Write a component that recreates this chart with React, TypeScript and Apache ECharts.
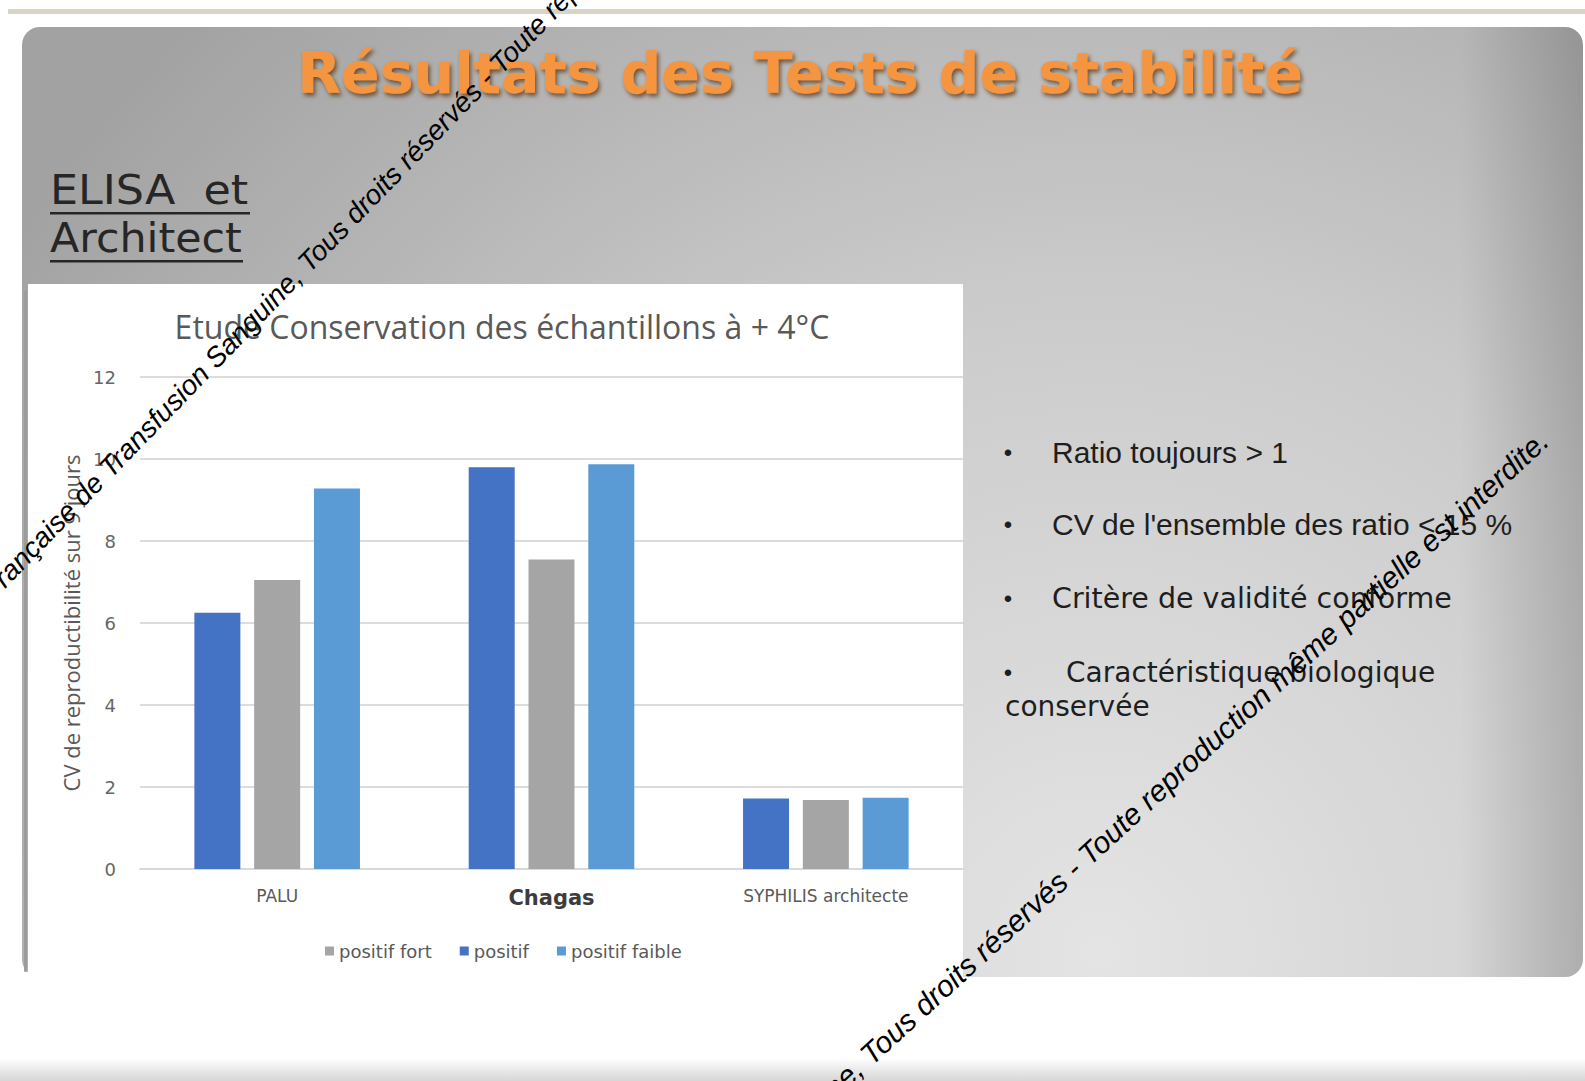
import React, { useEffect, useRef } from 'react';
import * as echarts from 'echarts';

const categories = ['PALU', 'Chagas', 'SYPHILIS architecte'];
const seriesNames = ['positif', 'positif fort', 'positif faible'];
const legendOrder = ['positif fort', 'positif', 'positif faible'];
const positif = [6.25, 9.8, 1.72];
const positifFort = [7.05, 7.55, 1.68];
const positifFaible = [9.28, 9.87, 1.74];
const seriesColors = ['#4472c4', '#a5a5a5', '#5b9bd5'];

const slideTitle = 'Résultats des Tests de stabilité';
const sideHeading = ['ELISA  et', 'Architect'];
const chartTitle = 'Etude Conservation des échantillons à + 4°C';
const yAxisName = 'CV de reproductibilité sur 9 jours';
const bulletLines = [
  'Ratio toujours > 1',
  "CV de l'ensemble des ratio < 15 %",
  'Critère de validité conforme',
  'Caractéristique biologique',
];
const bulletTail = 'conservée';
const watermark =
  'Société Française de Transfusion Sanguine, Tous droits réservés - Toute reproduction même partielle est interdite.';

export default function App() {
  const ref = useRef<HTMLDivElement>(null);

  useEffect(() => {
    document.body.style.margin = '0';
    if (!ref.current) return;
    const chart = echarts.init(ref.current, undefined, { renderer: 'svg' });
    const deg = Math.PI / 180;
    const dark = '#1e1e1e';

    const option: any = {
      animation: false,
      backgroundColor: '#ffffff',
      grid: { left: 140, right: 622, top: 377, bottom: 212, containLabel: false },
      legend: {
        data: legendOrder,
        left: 320,
        top: 937,
        icon: 'rect',
        itemWidth: 9,
        itemHeight: 9,
        itemGap: 28,
        textStyle: { color: '#595959', fontSize: 18, fontFamily: 'DejaVu Sans' },
      },
      xAxis: {
        type: 'category',
        data: categories.map((c) =>
          c === 'Chagas'
            ? { value: c, textStyle: { fontSize: 21, fontWeight: 'bold', color: '#3c3c3c' } }
            : c
        ),
        axisTick: { show: false },
        axisLine: { lineStyle: { color: '#d9d9d9', width: 2 } },
        axisLabel: { color: '#595959', fontSize: 17, margin: 18, fontFamily: 'DejaVu Sans' },
      },
      yAxis: {
        type: 'value',
        min: 0,
        max: 12,
        interval: 2,
        axisLine: { show: false },
        axisTick: { show: false },
        axisLabel: { color: '#666666', fontSize: 18, margin: 24, fontFamily: 'DejaVu Sans' },
        splitLine: { lineStyle: { color: '#dcdcdc', width: 2 } },
        name: yAxisName,
        nameLocation: 'middle',
        nameGap: 53,
        nameTextStyle: { color: '#595959', fontSize: 22, fontFamily: 'Open Sans' },
      },
      series: [positif, positifFort, positifFaible].map((d, i) => ({
        type: 'bar',
        name: seriesNames[i],
        data: d,
        barWidth: 46,
        barGap: '30%',
        itemStyle: { color: seriesColors[i] },
      })),
      graphic: [
        // top beige line
        { type: 'rect', z: -20, shape: { x: 8, y: 9, width: 1577, height: 5 }, style: { fill: '#d8d4c6' } },
        // gray slide panel
        {
          type: 'rect',
          z: -20,
          shape: { x: 22, y: 27, width: 1561, height: 950, r: 18 },
          style: {
            fill: {
              type: 'radial',
              x: 1100,
              y: 950,
              r: 1300,
              global: true,
              colorStops: [
                { offset: 0, color: '#e4e4e4' },
                { offset: 0.5, color: '#cbcbcb' },
                { offset: 1, color: '#a2a2a2' },
              ],
            },
          },
        },
        {
          type: 'rect',
          z: -19,
          shape: { x: 1460, y: 27, width: 123, height: 950, r: [0, 18, 18, 0] },
          style: {
            fill: {
              type: 'linear',
              x: 0,
              y: 0,
              x2: 1,
              y2: 0,
              colorStops: [
                { offset: 0, color: 'rgba(0,0,0,0)' },
                { offset: 1, color: 'rgba(0,0,0,0.17)' },
              ],
            },
          },
        },
        // white chart panel
        { type: 'rect', z: -18, shape: { x: 28, y: 284, width: 935, height: 697 }, style: { fill: '#ffffff' } },
        { type: 'rect', z: -17, shape: { x: 24, y: 290, width: 3, height: 682, r: 1.5 }, style: { fill: '#9c9c9c' } },
        // bottom strip
        {
          type: 'rect',
          z: -20,
          shape: { x: 0, y: 1058, width: 1585, height: 23 },
          style: {
            fill: {
              type: 'linear',
              x: 0,
              y: 0,
              x2: 0,
              y2: 1,
              colorStops: [
                { offset: 0, color: '#ffffff' },
                { offset: 1, color: '#d6d6d6' },
              ],
            },
          },
        },
        // slide title
        {
          type: 'text',
          z: 50,
          x: 800,
          y: 73,
          style: {
            text: slideTitle,
            fill: '#f59540',
            font: 'bold 57px "DejaVu Sans"',
            textAlign: 'center',
            textVerticalAlign: 'middle',
            textShadowColor: 'rgba(90,50,10,0.75)',
            textShadowBlur: 4,
            textShadowOffsetX: 2,
            textShadowOffsetY: 3,
          },
        },
        // side heading
        {
          type: 'text',
          z: 50,
          x: 50,
          y: 210,
          scaleX: 1.11,
          style: { text: sideHeading[0], fill: '#262626', font: '40px "DejaVu Sans"', textAlign: 'left', textVerticalAlign: 'bottom' },
        },
        {
          type: 'text',
          z: 50,
          x: 50,
          y: 258,
          scaleX: 1.07,
          style: { text: sideHeading[1], fill: '#262626', font: '40px "DejaVu Sans"', textAlign: 'left', textVerticalAlign: 'bottom' },
        },
        { type: 'rect', z: 50, shape: { x: 50, y: 212, width: 200, height: 2.5 }, style: { fill: '#262626' } },
        { type: 'rect', z: 50, shape: { x: 50, y: 260, width: 193, height: 2.5 }, style: { fill: '#262626' } },
        // chart title
        {
          type: 'text',
          z: 50,
          x: 502,
          y: 326,
          style: { text: chartTitle, fill: '#595959', font: '32px "Open Sans"', textAlign: 'center', textVerticalAlign: 'middle' },
        },
        // bullets
        ...[452, 524, 598, 672].map((y) => ({
          type: 'text',
          z: 50,
          x: 1008,
          y,
          style: { text: '•', fill: dark, font: '24px "Liberation Sans"', textAlign: 'center', textVerticalAlign: 'middle' },
        })),
        {
          type: 'text', z: 50, x: 1052, y: 452,
          style: { text: bulletLines[0], fill: dark, font: '30px "Liberation Sans"', textVerticalAlign: 'middle' },
        },
        {
          type: 'text', z: 50, x: 1052, y: 524,
          style: { text: bulletLines[1], fill: dark, font: '30px "Liberation Sans"', textVerticalAlign: 'middle' },
        },
        {
          type: 'text', z: 50, x: 1052, y: 598,
          style: { text: bulletLines[2], fill: dark, font: '28.5px "DejaVu Sans"', textVerticalAlign: 'middle' },
        },
        {
          type: 'text', z: 50, x: 1066, y: 672,
          style: { text: bulletLines[3], fill: dark, font: '28px "DejaVu Sans"', textVerticalAlign: 'middle' },
        },
        {
          type: 'text', z: 50, x: 1005, y: 706,
          style: { text: bulletTail, fill: dark, font: '28px "DejaVu Sans"', textVerticalAlign: 'middle' },
        },
        // diagonal watermark lines
        {
          type: 'text',
          z: 60,
          x: -74,
          y: 677,
          rotation: 46 * deg,
          style: { text: watermark, fill: '#000000', font: 'italic 28px "Liberation Sans"', textAlign: 'left', textVerticalAlign: 'bottom' },
        },
        {
          type: 'text',
          z: 60,
          x: 1554,
          y: 447,
          rotation: 42.5 * deg,
          style: { text: watermark, fill: '#000000', font: 'italic 30px "Liberation Sans"', textAlign: 'right', textVerticalAlign: 'bottom' },
        },
      ],
    };

    chart.setOption(option);
    return () => chart.dispose();
  }, []);

  return <div ref={ref} style={{ position: 'absolute', left: 0, top: 0, width: 1585, height: 1081 }} />;
}
